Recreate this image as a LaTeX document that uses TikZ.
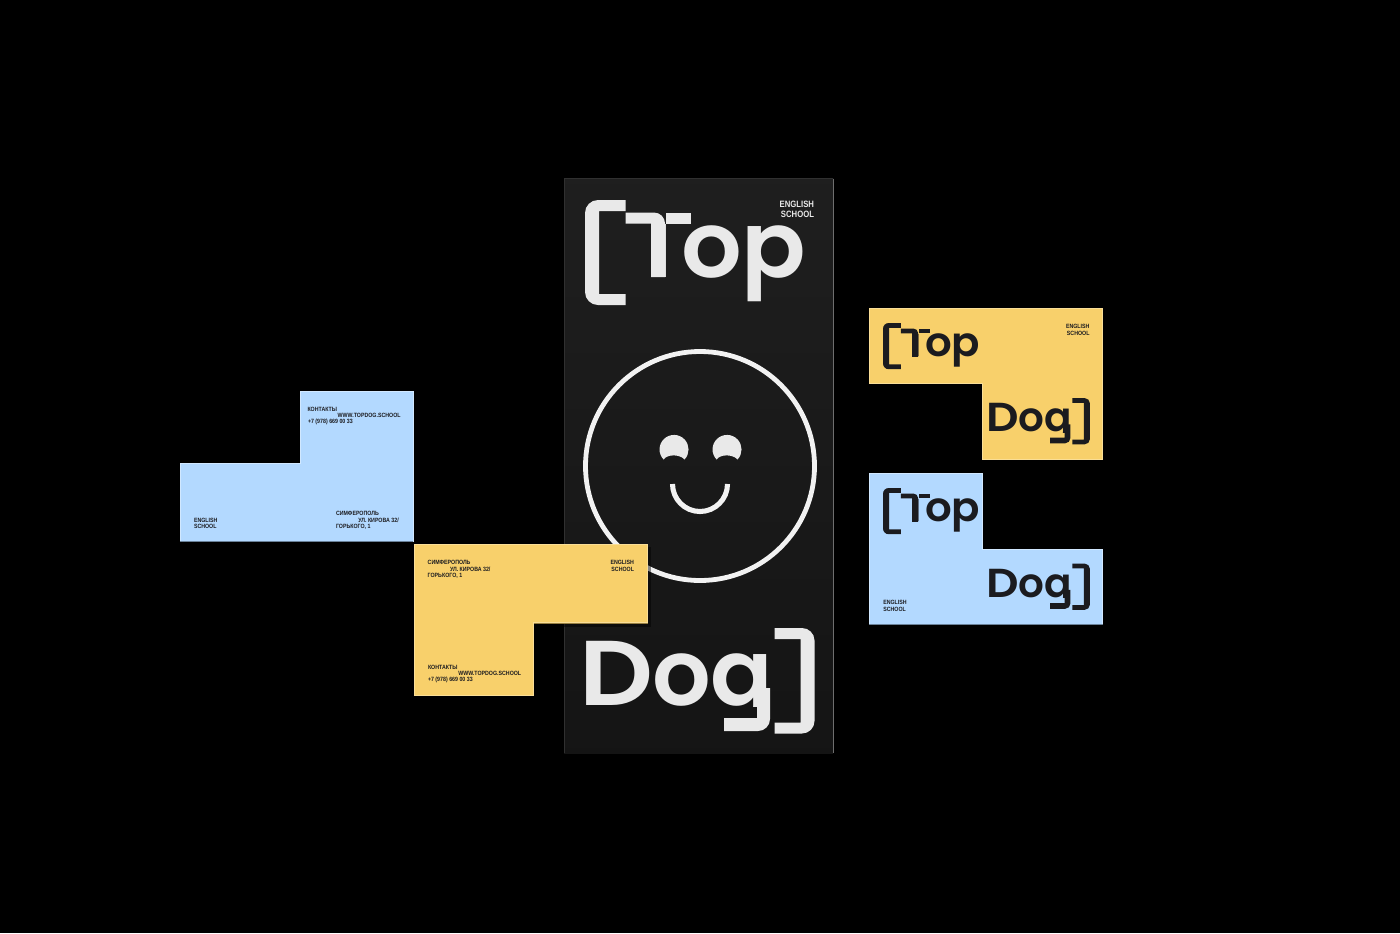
\documentclass[tikz,border=0pt]{standalone}
\usepackage{fontspec}
\setmainfont{Liberation Sans}
\newfontfamily\logofont{Poppins SemiBold}
\newfontfamily\smallfont{Liberation Sans}
\definecolor{cardblue}{HTML}{B3D9FF}
\definecolor{cardyellow}{HTML}{F8D06B}
\definecolor{ink}{HTML}{1B1B1F}
\definecolor{paper}{HTML}{E9E9E9}
\definecolor{ringwhite}{HTML}{F2F2F2}
\definecolor{paneledge}{HTML}{303030}
\tikzset{
  logotext/.style={inner sep=0pt,outer sep=0pt,anchor=base west,font=\logofont\fontsize{69}{69}\selectfont,transform shape},
  card/.style={line width=.4pt,line join=miter},
  bluecard/.style={card,fill=cardblue,draw=cardblue!60!white},
  yellowcard/.style={card,fill=cardyellow,draw=cardyellow!70!white},
  underedge/.style={line width=.6pt},
  fine/.style={inner sep=0pt,outer sep=0pt,xscale=.86,transform shape,font=\smallfont\bfseries\fontsize{4.6}{5}\selectfont,text=ink},
  finemain/.style={inner sep=0pt,outer sep=0pt,xscale=.84,transform shape,font=\smallfont\bfseries\fontsize{6.9}{8}\selectfont,text=paper},
  facestroke/.style={draw=ringwhite,fill=none}
}
% Top logo, origin at the top-left of the left bracket
\newcommand{\logoTop}[4]{%
  \begin{scope}[shift={(#1,#2)},scale=#3,name prefix=#4-]
    \begin{scope}
      \clip (-10,24) -- (107,24) -- (107,-10) -- (300,-10) -- (300,200) -- (-10,200) -- cycle;
      \node[logotext,text=.] (top) at (48,77) {T\kern-.055em\scalebox{1.035}[1]{op}};
    \end{scope}
    \fill (40.5,0) -- (13,0) arc[start angle=270,end angle=180,radius=13] -- (0,92) arc[start angle=180,end angle=90,radius=13] -- (40.5,105) -- (40.5,94) -- (14,94) -- (14,11) -- (40.5,11) -- cycle;
    \fill (40.5,12.5) -- (69,12.5) arc[start angle=270,end angle=360,radius=11] -- (80,77) -- (66,77) -- (66,23.5) -- (40.5,23.5) -- cycle;
    \fill (81,12.5) -- (106,12.5) -- (106,23.5) -- (81,23.5) -- cycle;
  \end{scope}}
% Dog logo, origin at the top-left of the word's box
\newcommand{\logoDog}[4]{%
  \begin{scope}[shift={(#1,#2)},scale=#3,name prefix=#4-]
    \begin{scope}
      \clip (-10,-10) rectangle (188,78);
      \node[logotext,text=.] (dog) at (-5.5,77) {\scalebox{1.12}[1]{D}\kern-.015em og};
    \end{scope}
    \fill (172,60) -- (172,90) -- (139,90) -- (139,103) -- (173,103) arc[start angle=90,end angle=0,radius=12] -- (185,60) -- cycle;
    \fill (189.5,0) -- (217,0) arc[start angle=270,end angle=360,radius=12.5] -- (229.5,93) arc[start angle=0,end angle=90,radius=12.5] -- (189.5,105.5) -- (189.5,94.5) -- (215.5,94.5) -- (215.5,11) -- (189.5,11) -- cycle;
  \end{scope}}
\begin{document}
\begin{tikzpicture}[x=.75pt,y=-.75pt]
\useasboundingbox (0,0) rectangle (1400,933);
\fill[black] (0,0) rectangle (1400,933);
% panel
\shade[top color=black!88,bottom color=black!92] (564,178) rectangle (833,753);
\draw[paneledge,line width=1pt] (564.5,753) -- (564.5,178.5) -- (833,178.5);
\draw[paneledge!70,line width=.6pt] (833,178.5) -- (833,753);
% face
\draw[facestroke,line width=3.6pt] (700,466) circle[radius=114.5];
\fill[paper] (663.6,459.5) arc[start angle=136,end angle=404,radius=14.5] .. controls (680,454) and (667,454) .. cycle;
\fill[paper] (716.6,459.5) arc[start angle=136,end angle=404,radius=14.5] .. controls (733,454) and (720,454) .. cycle;
\draw[facestroke,line width=3.8pt] (672.5,484) arc[start angle=180,end angle=0,radius=27.5];
% panel logo
\begin{scope}[fill=paper,text=paper]
\color{paper}
\logoTop{585}{200}{1}{main}
\logoDog{585}{628}{1}{maind}
\end{scope}
\node[finemain,anchor=east] (m1) at (814,204) {ENGLISH};
\node[finemain,anchor=east] (m2) at (814,214) {SCHOOL};
% blue card, left
\draw[bluecard] (300,391) -- (413,391) -- (413,541) -- (180,541) -- (180,463) -- (300,463) -- cycle;
\draw[underedge,cardblue!60!black] (180,541.3) -- (413.3,541.3);
\node[fine,anchor=west] (b1) at (307.5,409) {КОНТАКТЫ};
\node[fine,anchor=west] (b2) at (337.7,415.7) {WWW.TOPDOG.SCHOOL};
\node[fine,anchor=west] (b3) at (308,422.3) {+7 (978) 669 00 33};
\node[fine,anchor=west] (b4) at (194,520) {ENGLISH};
\node[fine,anchor=west] (b5) at (194,526.5) {SCHOOL};
\node[fine,anchor=west] (b6) at (336,513.3) {СИМФЕРОПОЛЬ};
\node[fine,anchor=west] (b7) at (358.3,520) {УЛ. КИРОВА 32/};
\node[fine,anchor=west] (b8) at (336,526.7) {ГОРЬКОГО, 1};
% yellow card, centre
\draw[black,opacity=.45,line width=3.5pt] (649,547) -- (649,625) -- (536,625);
\draw[yellowcard] (414,544.5) -- (647.7,544.5) -- (647.7,622.7) -- (533.7,622.7) -- (533.7,695) -- (414,695) -- cycle;
\draw[underedge,cardyellow!60!black] (647.7,623) -- (533.7,623);
\node[fine,anchor=west] (c1) at (427.7,562.3) {СИМФЕРОПОЛЬ};
\node[fine,anchor=west] (c2) at (450,569) {УЛ. КИРОВА 32/};
\node[fine,anchor=west] (c3) at (427.7,575.7) {ГОРЬКОГО, 1};
\node[fine,anchor=east] (c4) at (634,562.3) {ENGLISH};
\node[fine,anchor=east] (c5) at (634,569) {SCHOOL};
\node[fine,anchor=west] (c6) at (428,667) {КОНТАКТЫ};
\node[fine,anchor=west] (c7) at (458.3,673.5) {WWW.TOPDOG.SCHOOL};
\node[fine,anchor=west] (c8) at (428,680) {+7 (978) 669 00 33};
% yellow card, right
\draw[yellowcard] (869,308.5) -- (1102.7,308.5) -- (1102.7,459.5) -- (982.7,459.5) -- (982.7,383.5) -- (869,383.5) -- cycle;
\begin{scope}[fill=ink,text=ink]
\color{ink}
\logoTop{883}{323}{.44}{ya}
\logoDog{989}{398}{.44}{yb}
\end{scope}
\node[fine,anchor=east] (y1) at (1089.5,326.3) {ENGLISH};
\node[fine,anchor=east] (y2) at (1089.5,333) {SCHOOL};
% blue card, right
\draw[bluecard] (869,473.5) -- (982.7,473.5) -- (982.7,549) -- (1102.7,549) -- (1102.7,624.5) -- (869,624.5) -- cycle;
\draw[underedge,cardblue!60!black] (869,624.8) -- (1102.9,624.8);
\begin{scope}[fill=ink,text=ink]
\color{ink}
\logoTop{883}{488}{.44}{za}
\logoDog{989}{563.5}{.44}{zb}
\end{scope}
\node[fine,anchor=west] (z1) at (883.3,602.3) {ENGLISH};
\node[fine,anchor=west] (z2) at (883.3,609) {SCHOOL};
\end{tikzpicture}
\end{document}
